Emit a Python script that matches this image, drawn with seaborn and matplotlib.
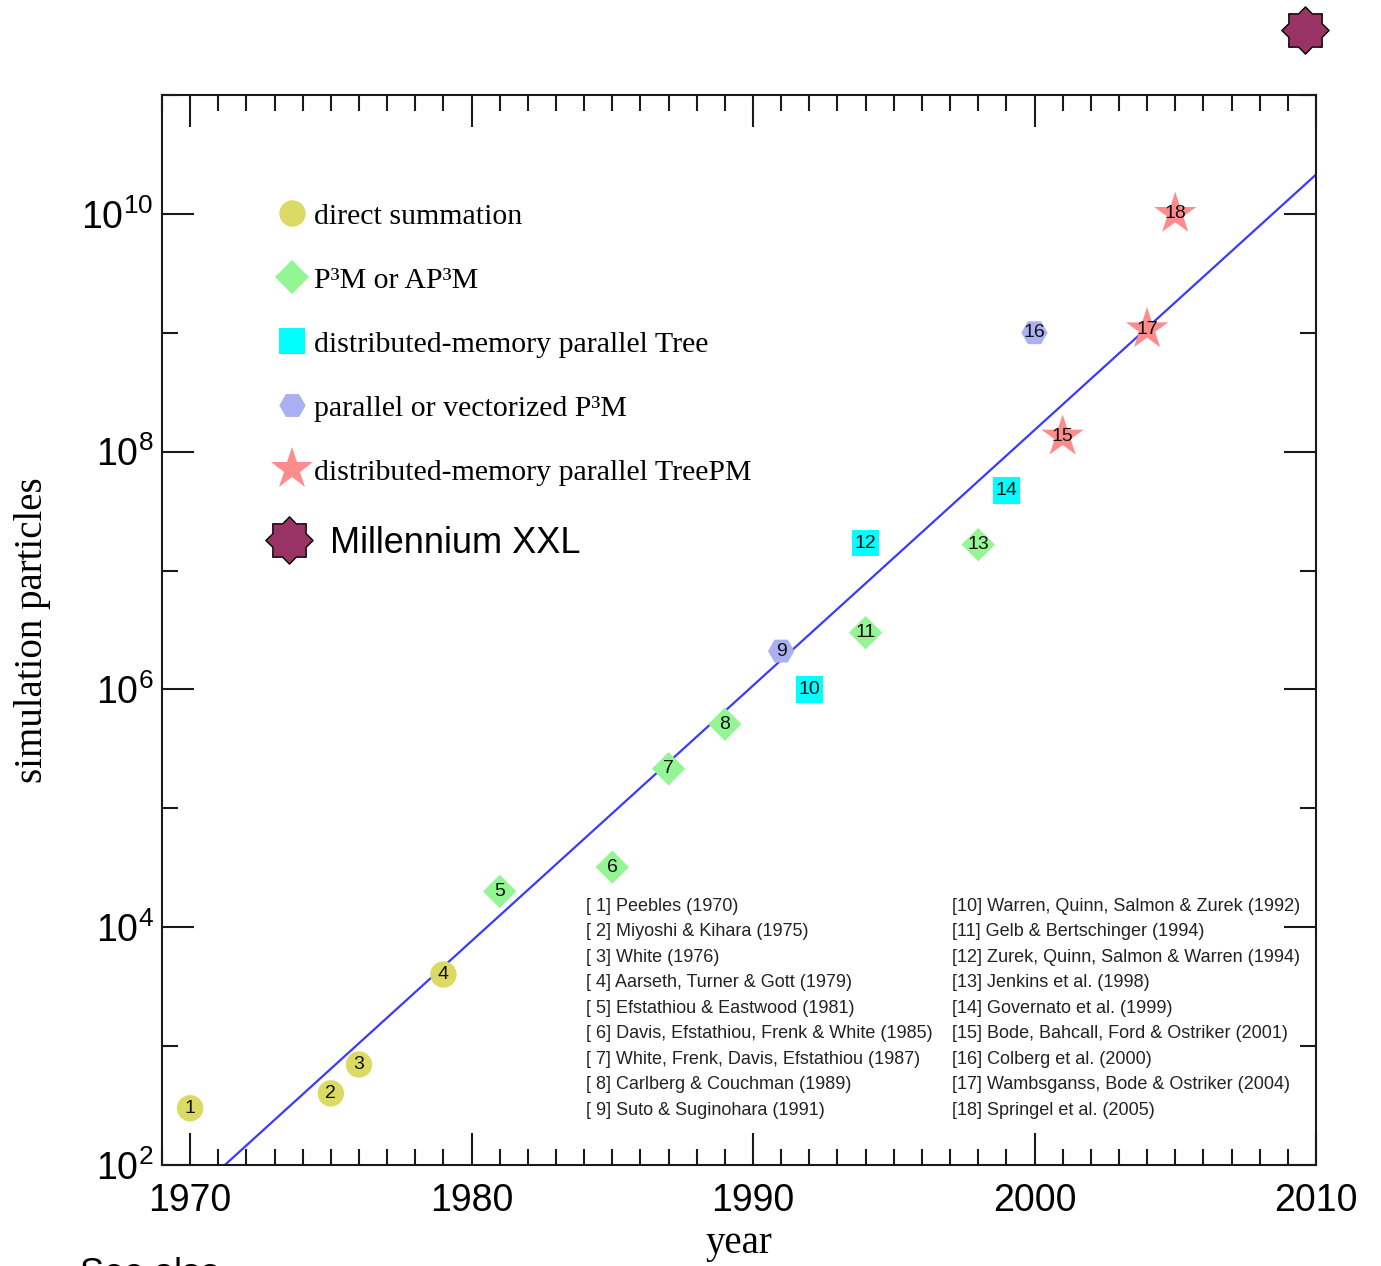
import numpy as np
import pandas as pd
import matplotlib
matplotlib.use("Agg")
import matplotlib.pyplot as plt
from matplotlib.lines import Line2D
from matplotlib.path import Path
import seaborn as sns

##### Daten #####

ref_ids = list(range(1, 19))
years = [1970, 1975, 1976, 1979, 1981, 1985, 1987, 1989, 1991, 1992,
         1994, 1994, 1998, 1999, 2001, 2000, 2004, 2005]
particles = [3.0e2, 4.0e2, 7.0e2, 4.0e3, 2.0e4, 3.2e4, 2.15e5, 5.1e5, 2.1e6, 1.0e6,
             3.0e6, 1.7e7, 1.65e7, 4.7e7, 1.34e8, 1.0e9, 1.07e9, 1.0e10]
methods = ["direct", "direct", "direct", "direct", "p3m", "p3m", "p3m", "p3m", "vec", "tree",
           "p3m", "tree", "p3m", "tree", "treepm", "vec", "treepm", "treepm"]

method_keys = ["direct", "p3m", "tree", "vec", "treepm"]
method_labels = ["direct summation", "P³M or AP³M", "distributed-memory parallel Tree",
                 "parallel or vectorized P³M", "distributed-memory parallel TreePM"]
method_colors = ["#dada64", "#94f594", "#00ffff", "#aab0f2", "#ff8c8c"]
method_markers = ["o", "D", "s", "H", "*"]
method_sizes = [19, 17, 19, 19, 32]

# Millennium XXL (ausserhalb der Achsen)
mxxl_year = [2009.6]
mxxl_particles = [3.5e11]

# Trendlinie (Endpunkte)
line_years = [1969.0, 2010.0]
line_particles = [10 ** 1.52, 10 ** 10.33]

references = [
    "[ 1] Peebles (1970)", "[ 2] Miyoshi & Kihara (1975)", "[ 3] White (1976)",
    "[ 4] Aarseth, Turner & Gott (1979)", "[ 5] Efstathiou & Eastwood (1981)",
    "[ 6] Davis, Efstathiou, Frenk & White (1985)", "[ 7] White, Frenk, Davis, Efstathiou (1987)",
    "[ 8] Carlberg & Couchman (1989)", "[ 9] Suto & Suginohara (1991)",
    "[10] Warren, Quinn, Salmon & Zurek (1992)", "[11] Gelb & Bertschinger (1994)",
    "[12] Zurek, Quinn, Salmon & Warren (1994)", "[13] Jenkins et al. (1998)",
    "[14] Governato et al. (1999)", "[15] Bode, Bahcall, Ford & Ostriker (2001)",
    "[16] Colberg et al. (2000)", "[17] Wambsganss, Bode & Ostriker (2004)",
    "[18] Springel et al. (2005)",
]

x_major = [1970, 1980, 1990, 2000, 2010]
x_minor = list(range(1969, 2011))
y_major = [1e2, 1e4, 1e6, 1e8, 1e10]
y_major_labels = [r"$\mathdefault{10^{2}}$", r"$\mathdefault{10^{4}}$", r"$\mathdefault{10^{6}}$",
                  r"$\mathdefault{10^{8}}$", r"$\mathdefault{10^{10}}$"]
y_minor = [1e3, 1e5, 1e7, 1e9, 1e11]

df = pd.DataFrame({"id": ref_ids, "year": years, "particles": particles, "method": methods})

##### Plot #####

sns.set_style("white")
plt.rcParams["font.family"] = ["Liberation Sans", "DejaVu Sans"]
plt.rcParams["mathtext.fontset"] = "custom"
plt.rcParams["mathtext.rm"] = "Liberation Sans"
plt.rcParams["text.color"] = "black"
plt.rcParams["axes.labelcolor"] = "black"
plt.rcParams["xtick.color"] = "black"
plt.rcParams["ytick.color"] = "black"

fig = plt.figure(figsize=(13.81, 12.66), dpi=100)
ax = fig.add_axes([0.1173, 0.0798, 0.8356, 0.8452])

sns.lineplot(x=line_years, y=line_particles, color="#3a3aff", linewidth=1.6, ax=ax, zorder=1)

palette = dict(zip(method_keys, method_colors))
markers = dict(zip(method_keys, method_markers))
sizes = {k: s ** 2 for k, s in zip(method_keys, method_sizes)}
sns.scatterplot(data=df, x="year", y="particles", hue="method", style="method", size="method",
                palette=palette, markers=markers, sizes=sizes, hue_order=method_keys,
                style_order=method_keys, size_order=method_keys,
                linewidth=0, edgecolor="none", legend=False, ax=ax, zorder=3)

for i, yr, n in zip(ref_ids, years, particles):
    ax.text(yr, n, str(i), ha="center", va="center", fontsize=14, color="#111111", zorder=4)

# 8-zackiger Stern
ang_out = np.pi / 2 + np.arange(8) * np.pi / 4
ang_in = ang_out + np.pi / 8
verts = []
for a, b in zip(ang_out, ang_in):
    verts.append((np.cos(a), np.sin(a)))
    verts.append((0.76 * np.cos(b), 0.76 * np.sin(b)))
verts.append(verts[0])
star8 = Path(verts, closed=True)

ax.scatter(mxxl_year, mxxl_particles, marker=star8, s=34 ** 2, color="#993366",
           edgecolor="black", linewidth=1.0, clip_on=False, zorder=5)

ax.set_yscale("log")
ax.set_xlim(1969, 2010)
ax.set_ylim(1e2, 1e11)
ax.set_xticks(x_major)
ax.set_xticks(x_minor, minor=True)
ax.set_yticks(y_major, y_major_labels)
ax.set_yticks(y_minor, minor=True)
ax.yaxis.set_minor_formatter(plt.NullFormatter())
ax.tick_params(which="both", direction="in", bottom=True, left=True, top=True, right=True,
               color="#1a1a1a", width=1.5)
ax.tick_params(which="major", length=23, labelsize=27)
ax.tick_params(which="minor", length=11.5)
ax.tick_params(axis="x", which="major", pad=13)
ax.tick_params(axis="y", which="major", pad=6)
for sp in ax.spines.values():
    sp.set_linewidth(1.5)
    sp.set_color("#1a1a1a")

ax.set_xlabel("year", family="Liberation Serif", fontsize=28, labelpad=4)
ax.set_ylabel("simulation particles", family="Liberation Serif", fontsize=28, labelpad=22)

# Legende
handles = [Line2D([], [], marker=m, color=c, linestyle="none", markersize=s, markeredgewidth=0)
           for m, c, s in zip(method_markers, method_colors, method_sizes)]
leg1 = ax.legend(handles, method_labels, loc="upper left", bbox_to_anchor=(0.0997, 0.8991),
                 frameon=False, borderpad=0, borderaxespad=0, labelspacing=1.24,
                 handlelength=1.0, handletextpad=0.25, prop={"family": "Liberation Serif", "size": 21.5})
ax.add_artist(leg1)
h_mxxl = Line2D([], [], marker=star8, color="#993366", linestyle="none", markersize=34,
                markeredgecolor="black", markeredgewidth=1.0)
ax.legend([h_mxxl], ["Millennium XXL"], loc="upper left", bbox_to_anchor=(0.0884, 0.5974),
          frameon=False, borderpad=0, borderaxespad=0, handlelength=1.4, handletextpad=0.44,
          prop={"family": "Liberation Sans", "size": 26})

# Referenzen
for k, ref in enumerate(references):
    col = k // 9
    row = k % 9
    ax.text([0.3674, 0.6846][col], 0.2420 - row * 0.02383, ref, transform=ax.transAxes,
            ha="left", va="center", fontsize=13, color="#222222")

fig.text(0.058, 0.0071, "See also", ha="left", va="top", fontsize=26)

fig.savefig("out.png", dpi=100)
